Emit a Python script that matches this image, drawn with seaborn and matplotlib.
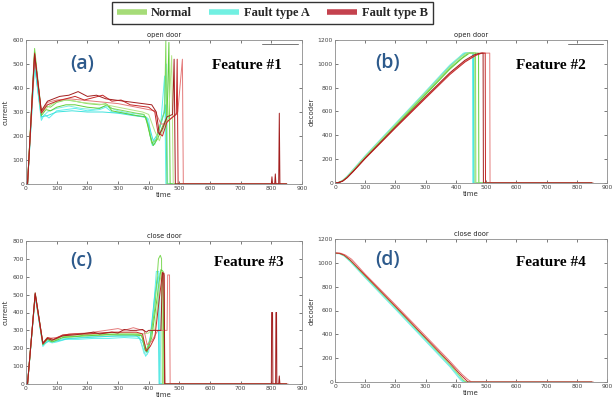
import matplotlib
matplotlib.use('Agg')
import matplotlib.pyplot as plt
import seaborn as sns
from matplotlib.lines import Line2D

# ---------------- data (time, value) keypoints ----------------
# Panel (a) open door current
A_N1 = [(0,0),(5,0),(28,565),(50,300),(65,325),(80,320),(100,340),(130,350),(160,345),(200,335),(240,330),(260,335),(280,315),(320,305),(360,295),(385,290),(398,245),(410,170),(425,185),(440,260),(452,300),(456,600),(460,0),(850,0)]
A_N2 = [(0,0),(5,0),(28,550),(50,285),(65,310),(80,305),(100,320),(130,330),(160,330),(200,320),(240,315),(265,330),(280,305),(320,295),(360,285),(390,280),(405,200),(415,160),(430,190),(445,240),(460,280),(466,590),(470,0),(850,0)]
A_N3 = [(0,0),(5,0),(28,540),(50,295),(70,320),(100,345),(140,350),(180,340),(220,335),(260,330),(300,320),(340,310),(380,300),(400,290),(420,220),(435,180),(450,240),(465,275),(475,535),(480,0),(850,0)]
A_A1 = [(0,0),(5,0),(28,500),(50,265),(60,290),(75,275),(100,305),(130,310),(160,315),(200,305),(240,310),(260,320),(280,300),(320,295),(360,285),(395,275),(405,200),(412,160),(425,190),(440,260),(452,450),(456,0),(850,0)]
A_A2 = [(0,0),(5,0),(28,510),(50,275),(70,300),(100,315),(140,325),(180,315),(220,310),(260,325),(300,305),(340,295),(380,290),(400,270),(410,175),(420,165),(435,230),(450,300),(458,500),(462,0),(850,0)]
A_A3 = [(0,0),(5,0),(28,495),(50,280),(70,285),(100,300),(150,305),(200,300),(250,300),(300,295),(350,285),(390,280),(402,240),(415,180),(430,210),(445,270),(455,330),(460,0),(850,0)]
A_B1 = [(0,0),(5,0),(28,540),(50,305),(70,345),(90,355),(110,365),(140,370),(170,385),(200,365),(230,370),(260,355),(290,350),(320,345),(350,340),(380,335),(410,330),(425,300),(435,205),(445,230),(460,280),(478,290),(483,520),(487,0),(800,0),(802,30),(804,0),(811,0),(813,42),(815,0),(824,0),(826,295),(828,0),(850,0)]
A_B2 = [(0,0),(5,0),(28,545),(50,295),(70,330),(100,345),(130,355),(160,365),(190,350),(220,360),(250,370),(280,345),(310,350),(340,330),(370,325),(400,320),(420,300),(430,215),(445,200),(460,260),(480,280),(490,290),(493,520),(496,0),(850,0)]
A_B3 = [(0,0),(5,0),(28,530),(50,300),(70,340),(100,350),(140,355),(180,350),(220,345),(260,340),(300,335),(340,325),(380,315),(420,305),(440,250),(455,250),(470,270),(495,300),(510,520),(513,0),(850,0)]

# Panel (b) open door decoder
B_A1 = [(0,0),(10,3),(25,20),(40,55),(60,110),(100,225),(200,495),(300,765),(380,985),(410,1050),(428,1090),(455,1090),(456,0),(850,0)]
B_A2 = [(0,0),(10,3),(25,22),(40,58),(60,115),(100,230),(200,500),(300,770),(380,990),(410,1055),(425,1090),(460,1090),(461,0),(850,0)]
B_A3 = [(0,0),(10,2),(25,18),(40,50),(60,105),(100,220),(200,488),(300,758),(380,978),(410,1045),(432,1090),(458,1090),(459,0),(850,0)]
B_N1 = [(0,0),(10,3),(25,18),(40,50),(60,105),(100,218),(200,485),(300,750),(380,965),(420,1050),(440,1090),(465,1090),(466,0),(850,0)]
B_N2 = [(0,0),(10,2),(25,17),(40,48),(60,100),(100,212),(200,478),(300,742),(380,955),(420,1045),(445,1090),(475,1090),(476,0),(850,0)]
B_N3 = [(0,0),(10,3),(25,20),(40,52),(60,108),(100,222),(200,490),(300,760),(380,975),(410,1045),(435,1090),(462,1090),(463,0),(850,0)]
B_B1 = [(0,0),(10,2),(25,16),(40,45),(60,98),(100,210),(200,470),(300,725),(380,925),(430,1030),(460,1075),(480,1090),(490,1090),(491,0),(850,0)]
B_B2 = [(0,0),(10,2),(25,15),(40,44),(60,95),(100,205),(200,462),(300,712),(380,910),(430,1015),(465,1070),(485,1090),(497,1090),(498,0),(850,0)]
B_B3 = [(0,0),(10,2),(25,16),(40,46),(60,97),(100,208),(200,466),(300,718),(380,918),(430,1022),(470,1080),(490,1090),(512,1090),(513,0),(855,0)]

# Panel (c) close door current
C_N1 = [(0,0),(5,0),(30,505),(55,225),(70,255),(85,240),(100,250),(115,265),(150,265),(200,275),(250,275),(300,280),(350,280),(375,275),(385,235),(393,190),(405,250),(420,420),(432,700),(438,720),(442,700),(445,0),(850,0)]
C_N2 = [(0,0),(5,0),(30,500),(55,220),(70,250),(85,235),(100,245),(120,260),(160,265),(200,270),(260,275),(300,275),(350,275),(378,270),(388,190),(395,180),(410,260),(425,450),(440,640),(447,630),(450,0),(850,0)]
C_N3 = [(0,0),(5,0),(30,510),(55,230),(70,260),(90,245),(120,270),(160,275),(220,280),(280,285),(340,285),(380,280),(400,285),(410,305),(420,300),(435,560),(443,630),(447,0),(850,0)]
C_A1 = [(0,0),(5,0),(30,495),(55,210),(70,240),(85,230),(100,235),(130,250),(170,250),(220,255),(270,255),(320,260),(370,255),(382,200),(390,155),(400,180),(415,400),(425,630),(433,630),(436,0),(850,0)]
C_A2 = [(0,0),(5,0),(30,500),(55,215),(70,245),(90,235),(120,255),(160,255),(200,265),(260,265),(320,265),(370,265),(385,170),(395,165),(410,300),(425,560),(435,620),(440,0),(850,0)]
C_A3 = [(0,0),(5,0),(30,490),(55,220),(75,240),(100,240),(140,255),(200,260),(250,265),(300,270),(360,270),(380,240),(392,175),(405,260),(420,500),(430,600),(434,0),(850,0)]
C_B1 = [(0,0),(5,0),(30,510),(55,225),(70,255),(85,245),(100,255),(120,270),(160,275),(200,285),(220,290),(240,280),(280,290),(300,285),(320,305),(340,300),(360,300),(380,305),(392,290),(400,300),(420,300),(440,300),(445,620),(450,620),(453,0),(800,0),(801,400),(804,400),(805,0),(814,0),(815,400),(817,400),(818,0),(824,0),(826,45),(828,0),(850,0)]
C_B2 = [(0,0),(5,0),(30,505),(55,230),(70,260),(90,250),(120,275),(160,280),(200,280),(240,285),(280,290),(320,290),(360,290),(380,280),(392,185),(405,210),(420,260),(435,480),(445,625),(450,610),(452,0),(850,0)]
C_B3 = [(0,0),(5,0),(30,500),(55,225),(70,255),(100,260),(140,280),(200,285),(260,300),(300,310),(320,300),(350,315),(370,305),(385,300),(395,220),(410,240),(430,300),(450,300),(460,300),(462,610),(468,610),(470,0),(855,0)]

# Panel (d) close door decoder
D_A1 = [(0,1080),(15,1078),(30,1060),(50,1015),(100,880),(200,618),(300,350),(380,135),(405,60),(420,15),(428,0),(850,0)]
D_A2 = [(0,1078),(15,1076),(30,1057),(50,1010),(100,874),(200,610),(300,342),(380,128),(400,65),(415,18),(424,0),(850,0)]
D_N1 = [(0,1080),(15,1078),(30,1062),(50,1020),(100,888),(200,628),(300,362),(380,148),(410,60),(425,15),(433,0),(850,0)]
D_B1 = [(0,1082),(15,1080),(30,1065),(50,1025),(100,895),(200,635),(300,370),(380,160),(410,75),(430,25),(440,0),(850,0)]
D_B2 = [(0,1085),(20,1080),(35,1065),(55,1030),(100,905),(200,648),(300,385),(380,175),(420,65),(440,20),(452,0),(855,0)]

LEGEND_LABELS = ['Normal', 'Fault type A', 'Fault type B']
TITLES = ['open door', 'open door', 'close door', 'close door']
YLABELS = ['current', 'decoder', 'current', 'decoder']
PANEL_TAGS = ['(a)', '(b)', '(c)', '(d)']
FEATURES = ['Feature #1', 'Feature #2', 'Feature #3', 'Feature #4']
YLIMS = [(0, 600), (0, 1200), (0, 800), (0, 1200)]
YSTEPS = [100, 200, 100, 200]

# ---------------- styling ----------------
sns.set_theme(style='white')
plt.rcParams['font.family'] = ['DejaVu Sans']

GREENS = ['#7ed957', '#5fcf3a', '#b2e486']
CYANS = ['#5ef0ee', '#7eeee4', '#3fe2dc']
REDS = ['#c62828', '#a31e1e', '#e47a7a']

fig = plt.figure(figsize=(6.12, 4.07), dpi=100)
pos = [
    [26/612, 1-184/407, 276/612, 144/407],
    [335/612, 1-183/407, 272/612, 143/407],
    [26/612, 1-384/407, 276/612, 143/407],
    [335/612, 1-382/407, 272/612, 143/407],
]
axes = [fig.add_axes(p) for p in pos]


def draw(ax, pts, color, lw=0.7):
    t = [p[0] for p in pts]
    v = [p[1] for p in pts]
    sns.lineplot(x=t, y=v, ax=ax, color=color, lw=lw, estimator=None, sort=False)


panel_lines = [
    ([A_A1, A_A2, A_A3], [A_N1, A_N2, A_N3], [A_B3, A_B2, A_B1]),
    ([B_A1, B_A2, B_A3], [B_N1, B_N2, B_N3], [B_B3, B_B2, B_B1]),
    ([C_A1, C_A2, C_A3], [C_N1, C_N2, C_N3], [C_B3, C_B2, C_B1]),
    ([D_A1, D_A2], [D_N1], [D_B2, D_B1]),
]
red_order = [REDS[2], REDS[0], REDS[1]]

for i, ax in enumerate(axes):
    cy, gr, rd = panel_lines[i]
    for k, pts in enumerate(cy):
        draw(ax, pts, CYANS[k % 3])
    for k, pts in enumerate(gr):
        draw(ax, pts, GREENS[k % 3])
    for k, pts in enumerate(rd):
        draw(ax, pts, red_order[k % 3] if len(rd) == 3 else [REDS[2], REDS[0]][k])

    ax.set_xlim(0, 900)
    ax.set_ylim(*YLIMS[i])
    ax.set_xticks(range(0, 901, 100))
    ax.set_yticks(range(YLIMS[i][0], YLIMS[i][1] + 1, YSTEPS[i]))
    ax.tick_params(direction='in', length=2, width=0.5, labelsize=4.3, colors='#444444',
                   top=True, right=True, bottom=True, left=True, pad=1.5)
    for s in ax.spines.values():
        s.set_color('#8c8c8c')
        s.set_linewidth(0.6)
    ax.set_title(TITLES[i], fontsize=4.8, pad=2.5, color='#222222')
    ax.set_xlabel('time', fontsize=5, labelpad=1, color='#333333')
    ax.set_ylabel(YLABELS[i], fontsize=5, labelpad=2.5, color='#333333')

tag_pos = [(0.205, 0.833), (0.195, 0.84), (0.20, 0.862), (0.193, 0.853)]
feat_pos = [(0.80, 0.82), (0.795, 0.825), (0.808, 0.848), (0.795, 0.834)]
for i, ax in enumerate(axes):
    ax.text(*tag_pos[i], PANEL_TAGS[i], transform=ax.transAxes, fontsize=14,
            color='#2d5a8c', ha='center', va='center', family='Open Sans', fontweight='semibold')
    ax.text(*feat_pos[i], FEATURES[i], transform=ax.transAxes, fontsize=11,
            color='black', ha='center', va='center', family='Liberation Serif', fontweight='bold')

# small gray legend remnants top-right in (a) and (b)
for ax in axes[:2]:
    ax.plot([0.855, 0.986], [0.972, 0.972], transform=ax.transAxes, color='#777777', lw=0.7)

handles = [Line2D([0], [0], color=c, lw=4, solid_capstyle='butt') for c in ['#a6dc78', '#72f0e2', '#c4424e']]
leg = fig.legend(handles, LEGEND_LABELS, loc='upper center', bbox_to_anchor=(272/612, 1 - 2/407),
                 borderaxespad=0, ncol=3, frameon=True, fancybox=False, edgecolor='black',
                 handlelength=2.4, columnspacing=1.4, handletextpad=0.35, borderpad=0.4,
                 prop={'family': 'Liberation Serif', 'weight': 'bold', 'size': 9})
leg.get_frame().set_linewidth(1.0)

fig.savefig('out.png', dpi=100, facecolor='white')
